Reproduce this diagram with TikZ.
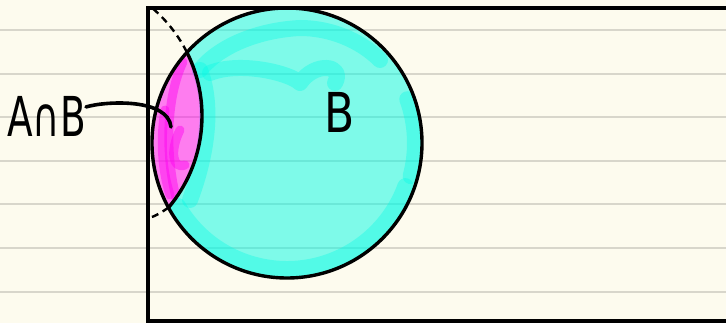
\documentclass[tikz,border=0pt]{standalone}
\usepackage{fontspec}
\newfontfamily\handfont{DejaVu Sans}
\definecolor{paper}{RGB}{253,251,238}
\definecolor{rulecol}{RGB}{216,214,203}
\definecolor{cyanfill}{RGB}{0,250,230}
\definecolor{magfill}{RGB}{255,0,240}
\begin{document}
\begin{tikzpicture}[x=1pt,y=1pt,
  outline/.style={line width=3.4pt, black},
  dashedarc/.style={line width=2.4pt, black, dash pattern=on 7pt off 5pt},
  lbl/.style={inner sep=0pt, font=\handfont\fontsize{55}{60}\selectfont},
  leader/.style={line width=3.6pt, black, line cap=round},
  cyanstroke/.style={cyanfill, opacity=0.35, line width=16pt, line cap=round, line join=round},
  magstroke/.style={magfill, opacity=0.45, line width=9pt, line cap=round, line join=round}]
\useasboundingbox (0,0) rectangle (726,323);
\fill[paper] (0,0) rectangle (726,323);
\foreach \k in {0,...,6} \draw[rulecol, line width=2pt] (0,{293-43.6*\k}) -- (726,{293-43.6*\k});
\coordinate (cA) at (60,207);
\coordinate (cB) at (287,180);
\def\lenspath{([shift={(26.6:142)}]cA) arc[start angle=26.6, end angle=-40.2, radius=142]
   arc[start angle=208.6, end angle=137.9, radius=135] -- cycle}
% cyan: B minus lens
\fill[cyanfill, fill opacity=0.5, even odd rule] (cB) circle[radius=135] \lenspath;
\begin{scope}
  \clip (cB) circle[radius=134];
  \draw[cyanstroke] ([shift={(-150:126)}]cB) arc[start angle=-150, end angle=-20, radius=126];
  \draw[cyanstroke] ([shift={(-15:128)}]cB) arc[start angle=-15, end angle=20, radius=128];
  \draw[cyanstroke] (200,253) .. controls (220,278) and (260,293) .. (300,295) .. controls (330,295) and (360,283) .. (380,263);
  \draw[cyanstroke] (210,250) .. controls (240,262) and (290,250) .. (300,240) .. controls (315,262) and (345,258) .. (335,240);
  \draw[cyanstroke] (200,253) .. controls (215,213) and (205,163) .. (190,123);
\end{scope}
% magenta lens
\fill[magfill, fill opacity=0.5] \lenspath;
\begin{scope}
  \clip \lenspath;
  \draw[magstroke] (183,261) .. controls (165,223) and (165,163) .. (178,118);
  \draw[magstroke] (180,193) .. controls (170,173) and (172,153) .. (185,158);
  \draw[magstroke] (165,213) .. controls (160,183) and (162,153) .. (170,128);
\end{scope}
% outlines
\draw[outline] (148,2) rectangle (760,315);
\draw[outline] (cB) circle[radius=135];
\draw[outline, line cap=round] ([shift={(26.6:142)}]cA) arc[start angle=26.6, end angle=-40.2, radius=142];
\draw[dashedarc] ([shift={(49:142)}]cA) arc[start angle=49, end angle=26.6, radius=142];
\draw[dashedarc] ([shift={(-40.2:142)}]cA) .. controls (162,111) and (156,107) .. (149,105);
% labels
\node[lbl, anchor=base west] (lab) at (7,186) {\scalebox{0.68}[1]{A∩B}};
\node[lbl, anchor=base] (lb) at (340,190) {\scalebox{0.8}[1]{B}};
\coordinate (tip) at (171,196);
\draw[leader] ([yshift=10pt]lab.east) .. controls +(20,6) and (168,225) .. (tip);
\end{tikzpicture}
\end{document}
